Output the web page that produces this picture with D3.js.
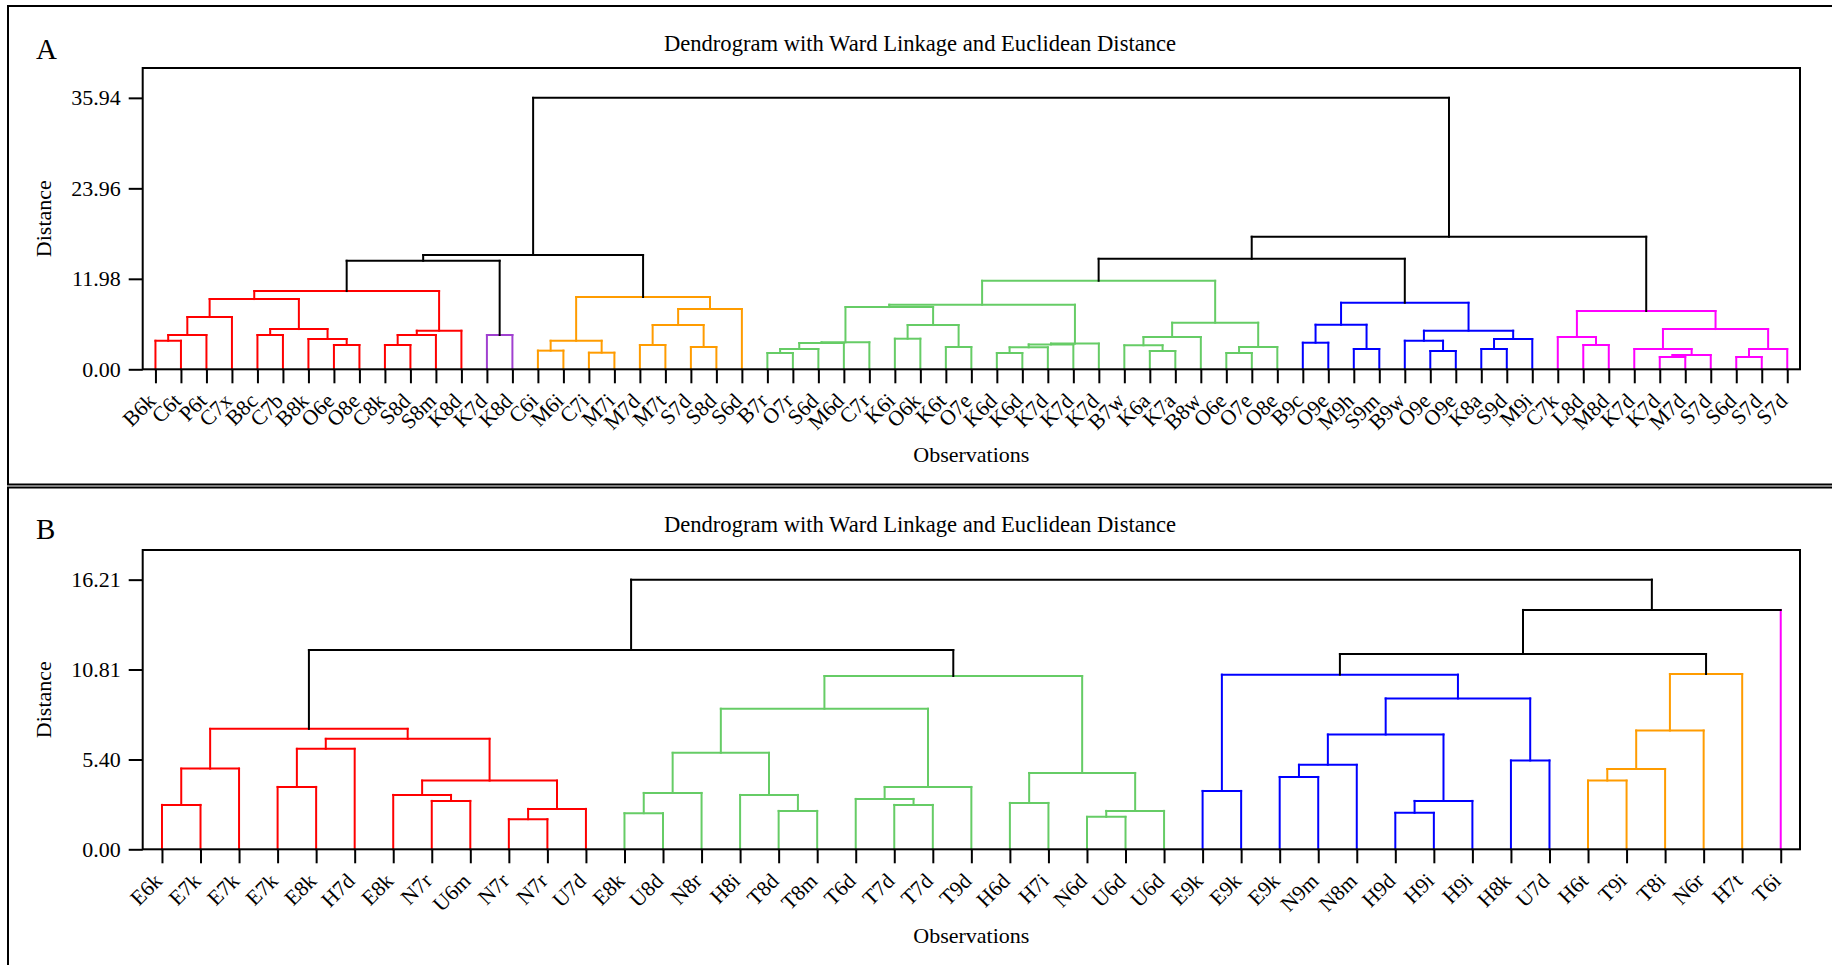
<!DOCTYPE html>
<html>
<head>
<meta charset="utf-8">
<script src="https://cdn.jsdelivr.net/npm/d3@7"></script>
<style>
  html, body { margin: 0; padding: 0; background: #fff; }
  svg { display: block; }
</style>
</head>
<body>
<svg id="fig" width="1832" height="965"></svg>
<script>
// ---------- Panel A data ----------
const leavesA = ["B6k","C6t","P6t","C7x","B8c","C7b","B8k","O6e","O8e","C8k","S8d","S8m","K8d",
  "K7d","K8d",
  "C6i","M6i","C7i","M7i","M7d","M7t","S7d","S8d","S6d",
  "B7r","O7r","S6d","M6d","C7r","K6i","O6k","K6t","O7e","K6d","K6d","K7d","K7d","K7d","B7w","K6a","K7a","B8w","O6e","O7e","O8e",
  "B9c","O9e","M9h","S9m","B9w","O9e","O9e","K8a","S9d","M9i",
  "C7k","L8d","M8d","K7d","K7d","M7d","S7d","S6d","S7d","S7d"];
const clusterSizesA = [13, 2, 9, 21, 10, 10];
const clusterColorsA = ["#FF0000", "#A040D0", "#FF9C00", "#66CC66", "#0000FF", "#FF00FF"];
// linkage rows: [child, child, distance]; ids >= leaf count refer to earlier rows
const mergesA = [
  [0, 1, 3.78], [65, 2, 4.54], [66, 3, 6.92], [4, 5, 4.54], [7, 8, 3.22],
  [6, 69, 4.01], [68, 70, 5.33], [67, 71, 9.30], [9, 10, 3.22], [73, 11, 4.54],
  [74, 12, 5.11], [72, 75, 10.36], [13, 14, 4.54], [76, 77, 14.37], [15, 16, 2.47],
  [17, 18, 2.20], [79, 80, 3.78], [19, 20, 3.22], [21, 22, 2.95], [82, 83, 5.86],
  [84, 23, 7.98], [81, 85, 9.57], [78, 86, 15.13], [24, 25, 2.16], [88, 26, 2.69],
  [89, 27, 3.48], [90, 28, 3.57], [29, 30, 4.05], [31, 32, 2.95], [92, 93, 5.86],
  [91, 94, 8.24], [33, 34, 2.16], [96, 35, 2.91], [97, 36, 3.30], [98, 37, 3.40],
  [95, 99, 8.55], [39, 40, 2.42], [38, 101, 3.18], [102, 41, 4.28], [42, 43, 2.16],
  [104, 44, 2.95], [103, 105, 6.17], [100, 106, 11.72], [45, 46, 3.52], [47, 48, 2.69],
  [108, 109, 5.90], [50, 51, 2.42], [49, 111, 3.78], [52, 53, 2.69], [113, 54, 4.01],
  [112, 114, 5.11], [110, 115, 8.81], [107, 116, 14.63], [56, 57, 3.22], [55, 118, 4.28],
  [59, 60, 1.63], [120, 61, 1.89], [58, 121, 2.69], [62, 63, 1.63], [123, 64, 2.69],
  [122, 124, 5.33], [119, 125, 7.72], [117, 126, 17.55], [87, 127, 35.94]
];
const ticksA = [0, 11.98, 23.96, 35.94];
const tickLabelsA = ["0.00", "11.98", "23.96", "35.94"];

// ---------- Panel B data ----------
const leavesB = ["E6k","E7k","E7k","E7k","E8k","H7d","E8k","N7r","U6m","N7r","N7r","U7d",
  "E8k","U8d","N8r","H8i","T8d","T8m","T6d","T7d","T7d","T9d","H6d","H7i","N6d","U6d","U6d",
  "E9k","E9k","E9k","N9m","N8m","H9d","H9i","H9i","H8k","U7d",
  "H6t","T9i","T8i","N6r","H7t",
  "T6i"];
const clusterSizesB = [12, 15, 10, 5, 1];
const clusterColorsB = ["#FF0000", "#66CC66", "#0000FF", "#FF9C00", "#FF00FF"];
const mergesB = [
  [0, 1, 2.67], [43, 2, 4.85], [3, 4, 3.75], [45, 5, 6.04], [7, 8, 2.91],
  [6, 47, 3.27], [9, 10, 1.81], [49, 11, 2.43], [48, 50, 4.13], [46, 51, 6.64],
  [44, 52, 7.24], [12, 13, 2.17], [54, 14, 3.39], [16, 17, 2.31], [15, 56, 3.27],
  [55, 57, 5.80], [19, 20, 2.67], [18, 59, 3.03], [60, 21, 3.75], [58, 61, 8.45],
  [22, 23, 2.79], [24, 25, 1.95], [64, 26, 2.31], [63, 65, 4.59], [62, 66, 10.42],
  [53, 67, 11.98], [27, 28, 3.51], [29, 30, 4.35], [70, 31, 5.08], [32, 33, 2.19],
  [72, 34, 2.91], [71, 73, 6.90], [35, 36, 5.34], [74, 75, 9.07], [69, 76, 10.50],
  [37, 38, 4.13], [78, 39, 4.83], [79, 40, 7.14], [80, 41, 10.54], [77, 81, 11.74],
  [82, 42, 14.39], [68, 83, 16.21]
];
const ticksB = [0, 5.40, 10.81, 16.21];
const tickLabelsB = ["0.00", "5.40", "10.81", "16.21"];

const TITLE = "Dendrogram with Ward Linkage and Euclidean Distance";
const FONT = '"Liberation Serif", "Times New Roman", serif';

const svg = d3.select("#fig");

function drawPanel(p) {
  const g = svg.append("g");
  g.append("rect")
    .attr("x", p.box[0]).attr("y", p.box[1])
    .attr("width", p.box[2]).attr("height", p.box[3])
    .attr("fill", "none").attr("stroke", "#000").attr("stroke-width", 2);

  const n = p.leaves.length;
  const x = d3.scalePoint().domain(d3.range(n)).range([p.left, p.right]).padding(0.5);
  const y = d3.scaleLinear().domain([0, p.ticks[p.ticks.length - 1] * 1.11]).range([p.bottom, p.top]);

  // cluster index of every leaf
  const leafCluster = [];
  p.clusterSizes.forEach((s, ci) => { for (let k = 0; k < s; k++) leafCluster.push(ci); });

  const nodeX = d3.range(n).map(i => x(i));
  const nodeH = new Array(n).fill(0);
  const nodeC = leafCluster.slice();
  const segs = [];
  p.merges.forEach(([a, b, h]) => {
    const c = (nodeC[a] !== null && nodeC[a] === nodeC[b]) ? nodeC[a] : null;
    const col = c === null ? "#000" : p.colors[c];
    const legCol = id => (id < n ? p.colors[nodeC[id]] : col);
    segs.push({ x1: nodeX[a], h1: nodeH[a], x2: nodeX[a], h2: h, color: legCol(a) });
    segs.push({ x1: nodeX[b], h1: nodeH[b], x2: nodeX[b], h2: h, color: legCol(b) });
    segs.push({ x1: nodeX[a], h1: h, x2: nodeX[b], h2: h, color: col });
    nodeX.push((nodeX[a] + nodeX[b]) / 2);
    nodeH.push(h);
    nodeC.push(c);
  });

  g.append("g").selectAll("line").data(segs).join("line")
    .attr("x1", d => d.x1).attr("x2", d => d.x2)
    .attr("y1", d => y(d.h1)).attr("y2", d => y(d.h2))
    .attr("stroke", d => d.color).attr("stroke-width", 2)
    .attr("stroke-linecap", "square");

  // plot frame
  g.append("rect")
    .attr("x", p.left).attr("y", p.top)
    .attr("width", p.right - p.left).attr("height", p.bottom - p.top)
    .attr("fill", "none").attr("stroke", "#000").attr("stroke-width", 2);

  // distance axis
  const yAxis = d3.axisLeft(y).tickValues(p.ticks)
    .tickFormat((d, i) => p.tickLabels[i]).tickSize(14).tickPadding(8);
  g.append("g").attr("transform", `translate(${p.left},0)`).call(yAxis)
    .attr("font-family", FONT).attr("font-size", 22)
    .call(s => s.select(".domain").remove())
    .call(s => s.selectAll(".tick line").attr("stroke-width", 2))
    .call(s => s.selectAll(".tick text").attr("fill", "#000"));

  // observation axis
  const xAxis = d3.axisBottom(x).tickSize(14).tickFormat(i => p.leaves[i]);
  g.append("g").attr("transform", `translate(0,${p.bottom})`).call(xAxis)
    .attr("font-family", FONT).attr("font-size", 21.5)
    .call(s => s.select(".domain").remove())
    .call(s => s.selectAll(".tick line").attr("stroke-width", 2))
    .call(s => s.selectAll(".tick text")
      .attr("x", 0).attr("y", 0).attr("dy", 0)
      .attr("text-anchor", "end").attr("fill", "#000")
      .attr("transform", "translate(1,33) rotate(-45)"));

  // titles
  g.append("text").attr("x", 920).attr("y", p.titleY)
    .attr("text-anchor", "middle").attr("font-family", FONT).attr("font-size", 22.6)
    .text(TITLE);
  g.append("text").attr("x", 36).attr("y", p.letterY)
    .attr("font-family", FONT).attr("font-size", 29)
    .text(p.letter);
  g.append("text")
    .attr("transform", `translate(50.5,${(p.top + p.bottom) / 2}) rotate(-90)`)
    .attr("text-anchor", "middle").attr("font-family", FONT).attr("font-size", 22)
    .text("Distance");
  g.append("text").attr("x", (p.left + p.right) / 2).attr("y", p.obsY)
    .attr("text-anchor", "middle").attr("font-family", FONT).attr("font-size", 22)
    .text("Observations");
}

drawPanel({
  letter: "A", box: [8, 6, 1840, 478.5],
  left: 142.7, right: 1800, top: 68, bottom: 369.3,
  titleY: 50.5, letterY: 59, obsY: 461.5,
  leaves: leavesA, clusterSizes: clusterSizesA, colors: clusterColorsA,
  merges: mergesA, ticks: ticksA, tickLabels: tickLabelsA
});

drawPanel({
  letter: "B", box: [8, 487.5, 1840, 500],
  left: 142.7, right: 1800, top: 550, bottom: 849.3,
  titleY: 531.5, letterY: 539, obsY: 943,
  leaves: leavesB, clusterSizes: clusterSizesB, colors: clusterColorsB,
  merges: mergesB, ticks: ticksB, tickLabels: tickLabelsB
});
</script>
</body>
</html>
